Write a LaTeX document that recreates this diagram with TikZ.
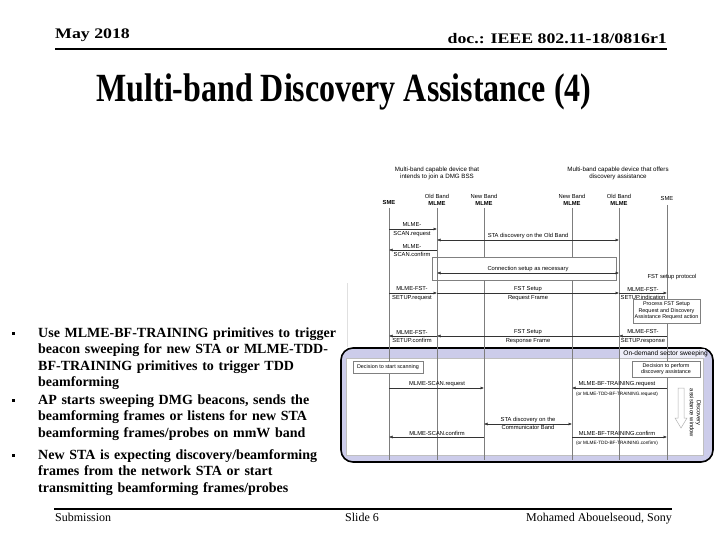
\documentclass[tikz,border=0pt]{standalone}
\usepackage{fontspec}
\setmainfont{Liberation Serif}
\setsansfont{Liberation Sans}
\newfontfamily\titlefont{Liberation Serif}[FakeStretch=0.8]
\newfontfamily\headfont{Liberation Serif}[FakeStretch=1.22]
\usetikzlibrary{arrows.meta}
\definecolor{lavender}{RGB}{204,204,234}
\definecolor{lifegray}{RGB}{125,125,125}
\tikzset{
    msg/.style={black!80, line width=0.5pt, -{Latex[length=3.5pt,width=3pt]}},
    dmsg/.style={black!80, line width=0.5pt, {Latex[length=3.5pt,width=3pt]}-{Latex[length=3.5pt,width=3pt]}},
    life/.style={lifegray, line width=0.5pt},
    lbl/.style={font=\sffamily\fontsize{5.8}{8.6}\selectfont, align=center, inner sep=0pt},
    lifehead/.style={font=\sffamily\fontsize{5.8}{7}\selectfont, align=center, inner sep=0pt},
    devcaption/.style={font=\sffamily\fontsize{6.2}{7.2}\selectfont, align=center, inner sep=0pt},
    smalltext/.style={font=\sffamily\fontsize{4.7}{5.5}\selectfont, inner sep=0pt},
    notebox/.style={draw=gray, fill=white, font=\sffamily\fontsize{5.4}{6.4}\selectfont, align=center, inner sep=0pt},
    bulletmark/.style={fill=black, inner sep=0pt, minimum size=3pt},
    bullettext/.style={font=\bfseries\fontsize{14}{16.6}\selectfont, text width=320pt, align=left, anchor=base west, inner sep=0pt},
    foottext/.style={font=\fontsize{12}{14}\selectfont, inner sep=0pt},
}

\begin{document}
\begin{tikzpicture}[x=1pt, y=-1pt]
    \useasboundingbox (0,0) rectangle (720,540);
    \node[anchor=base west, inner sep=0pt, font=\headfont\bfseries\fontsize{14.6}{16}\selectfont] (date) at (55,39) {May 2018};
    \node[anchor=base east, inner sep=0pt, font=\headfont\bfseries\fontsize{14.6}{16}\selectfont] (docid) at (667,44) {doc.: IEEE 802.11-18/0816r1};
    \draw[line width=1.6pt] (55,49) -- (667,49);
    \node[anchor=base, inner sep=0pt, font=\titlefont\bfseries\fontsize{40}{44}\selectfont] (title) at (344,102) {Multi-band Discovery Assistance (4)};

    \node[bulletmark] (dot1) at (13.5,333.5) {};
    \node[bullettext] (item1) at (38,337) {Use MLME-BF-TRAINING primitives to trigger\\beacon sweeping for new STA or MLME-TDD-\\BF-TRAINING primitives to trigger TDD\\beamforming};
    \node[bulletmark] (dot2) at (13.5,400.5) {};
    \node[bullettext] (item2) at (38,404) {AP starts sweeping DMG beacons, sends the\\beamforming frames or listens for new STA\\beamforming frames/probes on mmW band};
    \node[bulletmark] (dot3) at (13.5,455.5) {};
    \node[bullettext] (item3) at (38,459) {New STA is expecting discovery/beamforming\\frames from the network STA or start\\transmitting beamforming frames/probes};

    \draw[line width=1.6pt] (54,509) -- (672,509);
    \node[foottext, anchor=base west] (submission) at (55,521) {Submission};
    \node[foottext, anchor=base west] (slideno) at (345,521) {Slide 6};
    \node[foottext, anchor=base east] (author) at (672,521) {Mohamed Abouelseoud, Sony};

    \filldraw[fill=lavender, draw=black, line width=1.6pt, rounded corners=12pt] (341,348) rectangle (713,462);
    \filldraw[fill=white, draw=gray!50, line width=0.4pt] (346,358) rectangle (703,455);
    \fill[lavender!35] (619,349) rectangle (705,357.8);
    \draw[black!12] (347,283) -- (347,347);
    \draw[gray, fill=white, line width=0.5pt] (432,257) rectangle (616,280);

    \node[devcaption] (devL) at (437,173.5) {Multi-band capable device that\\intends to join a DMG BSS};
    \node[devcaption] (devR) at (618,173.5) {Multi-band capable device that offers\\discovery assistance};
    \node[lifehead] (smeL) at (389,203) {\textbf{SME}};
    \node[lifehead] (oldL) at (437,199.5) {Old Band\\\textbf{MLME}};
    \node[lifehead] (newL) at (484,199.5) {New Band\\\textbf{MLME}};
    \node[lifehead] (newR) at (572,199.5) {New Band\\\textbf{MLME}};
    \node[lifehead] (oldR) at (619,199.5) {Old Band\\\textbf{MLME}};
    \node[lifehead] (smeR) at (667,199) {SME};

    \draw[life] (smeL |- 0,208) -- (smeL |- 0,460);
    \draw[life] (oldL |- 0,208) -- (oldL |- 0,460);
    \draw[life] (newL |- 0,208) -- (newL |- 0,257);
    \draw[life] (newL |- 0,280) -- (newL |- 0,460);
    \draw[life] (newR |- 0,208) -- (newR |- 0,257);
    \draw[life] (newR |- 0,280) -- (newR |- 0,460);
    \draw[life] (oldR |- 0,208) -- (oldR |- 0,460);
    \draw[life] (smeR |- 0,205) -- (smeR |- 0,460);

    \draw[msg] (smeL |- 0,229) -- (oldL |- 0,229);
    \node[lbl] (scanreq) at (412,229.5) {MLME-\\SCAN.request};
    \draw[dmsg] (oldL |- 0,240) -- (oldR |- 0,240);
    \node[lbl, anchor=south] (olddisc) at (528,238.5) {STA discovery on the Old Band};
    \draw[msg] (oldL |- 0,250) -- (smeL |- 0,250);
    \node[lbl] (scanconf) at (412,250.5) {MLME-\\SCAN.confirm};
    \draw[dmsg] (oldL |- 0,273) -- (oldR |- 0,273);
    \node[lbl, anchor=south] (connsetup) at (528,271.5) {Connection setup as necessary};
    \node[lbl] (fstproto) at (672,277) {FST setup protocol};

    \draw[msg] (smeL |- 0,293) -- (oldL |- 0,293);
    \node[lbl] (fstreq) at (412,293.5) {MLME-FST-\\SETUP.request};
    \draw[msg] (oldL |- 0,293) -- (oldR |- 0,293);
    \node[lbl] (reqframe) at (528,293.5) {FST Setup\\Request Frame};
    \draw[msg] (oldR |- 0,293) -- (smeR |- 0,293);
    \node[lbl] (fstind) at (643,293.5) {MLME-FST-\\SETUP.indication};
    \node[notebox, minimum width=67pt, minimum height=24pt] (process) at (666.5,311) {Process FST Setup\\Request and Discovery\\Assistance Request action};
    \draw[msg] (smeR |- 0,336) -- (oldR |- 0,336);
    \node[lbl] (fstresp) at (643,336.5) {MLME-FST-\\SETUP.response};
    \draw[msg] (oldR |- 0,336) -- (oldL |- 0,336);
    \node[lbl] (respframe) at (528,336.5) {FST Setup\\Response Frame};
    \draw[msg] (oldL |- 0,336) -- (smeL |- 0,336);
    \node[lbl] (fstconf) at (412,336.5) {MLME-FST-\\SETUP.confirm};

    \node[inner sep=0pt, anchor=east, font=\sffamily\fontsize{6.6}{8}\selectfont] (sweep) at (708,353.5) {On-demand sector sweeping};
    \node[notebox, minimum width=70pt, minimum height=12pt] (startscan) at (388,367) {Decision to start scanning};
    \node[notebox, minimum width=68pt, minimum height=16pt] (perform) at (666,369) {Decision to perform\\discovery assistance};
    \draw[msg] (smeL |- 0,388) -- (newL |- 0,388);
    \node[lbl, anchor=south] (ondscan) at (437,386.5) {MLME-SCAN.request};
    \draw[msg] (smeR |- 0,388) -- (newR |- 0,388);
    \node[lbl, anchor=south] (bfreq) at (617,386.5) {MLME-BF-TRAINING.request};
    \node[smalltext] (tddreq) at (617,394) {(or MLME-TDD-BF-TRAINING.request)};
    \draw[dmsg] (newL |- 0,424) -- (newR |- 0,424);
    \node[lbl] (commdisc) at (528,423.5) {STA discovery on the\\Communicator Band};
    \draw[msg] (newL |- 0,437) -- (smeL |- 0,437);
    \node[lbl, anchor=south] (ondconf) at (437,435.5) {MLME-SCAN.confirm};
    \draw[msg] (newR |- 0,437) -- (smeR |- 0,437);
    \node[lbl, anchor=south] (bfconf) at (617,435.5) {MLME-BF-TRAINING.confirm};
    \node[smalltext] (tddconf) at (617,443) {(or MLME-TDD-BF-TRAINING.confirm)};

    \filldraw[fill=white, draw=gray!60, line width=0.5pt] (678,388) -- (684,388) -- (684,418) -- (687,418) -- (681,428) -- (675,418) -- (678,418) -- cycle;
    \node[lifehead, rotate=-90] (window) at (695.5,413) {Discovery\\assistance window};
\end{tikzpicture}
\end{document}
